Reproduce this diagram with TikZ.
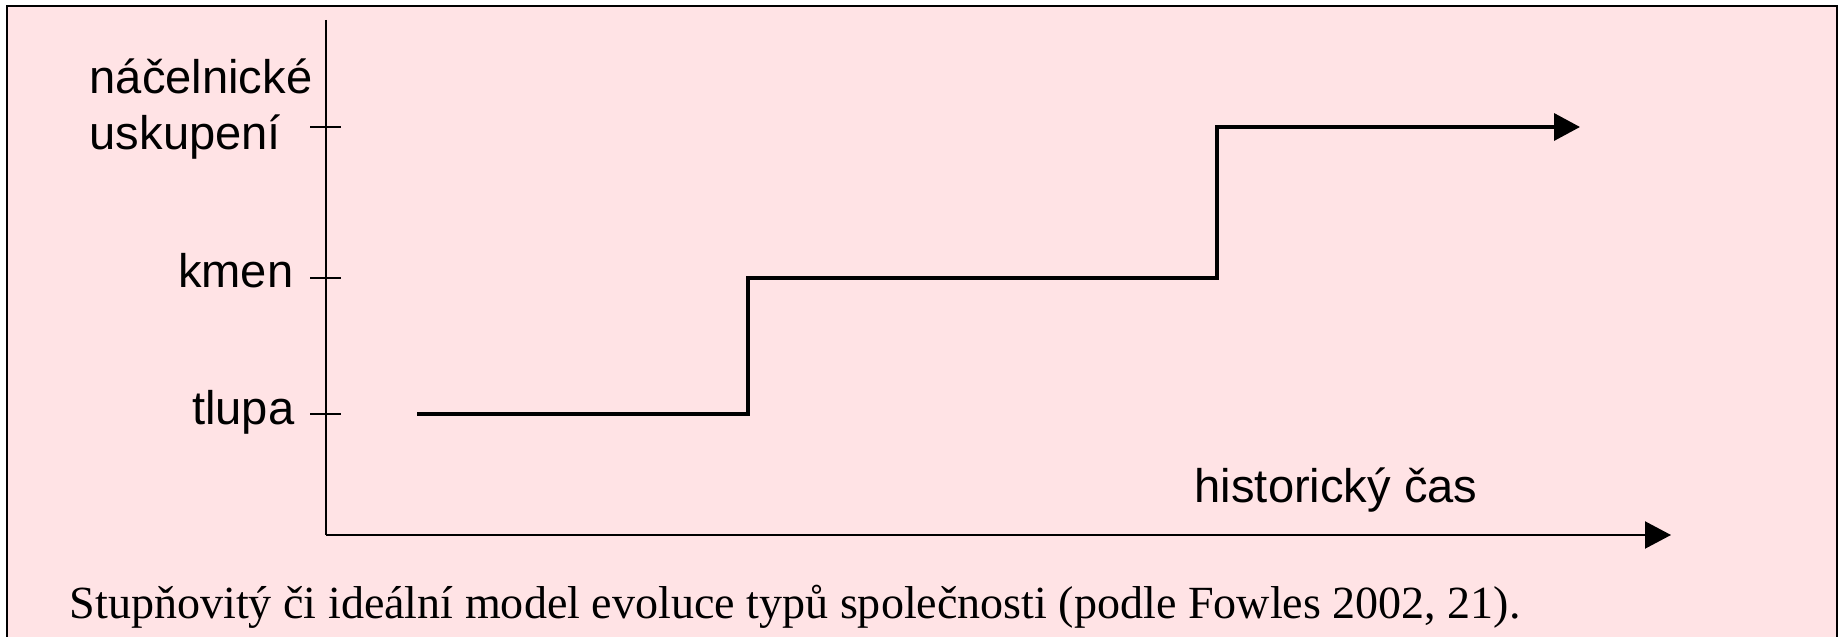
\documentclass[tikz,border=0pt]{standalone}
\usepackage{fontspec}
\setmainfont{Liberation Serif}
\newfontfamily\labelfont{Liberation Sans}
\usetikzlibrary{arrows.meta}
\definecolor{bgpink}{RGB}{255,227,229}
\tikzset{
  axisline/.style={line width=0.6pt},
  axisarrow/.style={line width=0.6pt, -{Triangle[length=0.26cm,width=0.27cm]}},
  stair/.style={line width=1pt, line join=miter, -{Triangle[length=0.26cm,width=0.27cm]}},
  levelmark/.style={line width=0.6pt},
  levellabel/.style={font=\labelfont\fontsize{13.4}{16.2}\selectfont, inner sep=0pt},
  captiontext/.style={font=\fontsize{13.1}{16}\selectfont, inner sep=0pt}
}
\begin{document}
\begin{tikzpicture}[x=0.01cm,y=-0.01cm]
\useasboundingbox (0,0) rectangle (1839,637);
\fill[bgpink] (7,6) rectangle (1837,637);
\draw[line width=0.6pt] (7,640) -- (7,6) -- (1837,6) -- (1837,640);
% axes
\coordinate (ytop) at (326,20);
\coordinate (origin) at (326,535);
\coordinate (xend) at (1671,535);
\draw[axisline] (ytop) -- (origin);
\draw[axisarrow] (origin) -- (xend);
% level marks
\coordinate (m1a) at (310,414); \coordinate (m1b) at (341,414);
\coordinate (m2a) at (310,278); \coordinate (m2b) at (341,278);
\coordinate (m3a) at (310,127); \coordinate (m3b) at (341,127);
\draw[levelmark] (m1a) -- (m1b);
\draw[levelmark] (m2a) -- (m2b);
\draw[levelmark] (m3a) -- (m3b);
\node[levellabel, anchor=base east] (tlupa) at (295,425) {tlupa};
\node[levellabel, anchor=base east] (kmen) at (294,288) {kmen};
\node[levellabel, anchor=base west, align=left] (nacel) at (89,150) {náčelnické\\uskupení};
\node[levellabel, anchor=base west] (cas) at (1194,502) {historický čas};
% steps
\coordinate (s0) at (417,414);
\coordinate (s1) at (748,414);
\coordinate (s2) at (748,278);
\coordinate (s3) at (1217,278);
\coordinate (s4) at (1217,127);
\coordinate (s5) at (1580,127);
\draw[stair] (s0) -- (s1) -- (s2) -- (s3) -- (s4) -- (s5);
\node[captiontext, anchor=base west] (caption) at (69,618) {Stupňovitý či ideální model evoluce typů společnosti (podle Fowles 2002, 21).};
\end{tikzpicture}
\end{document}
